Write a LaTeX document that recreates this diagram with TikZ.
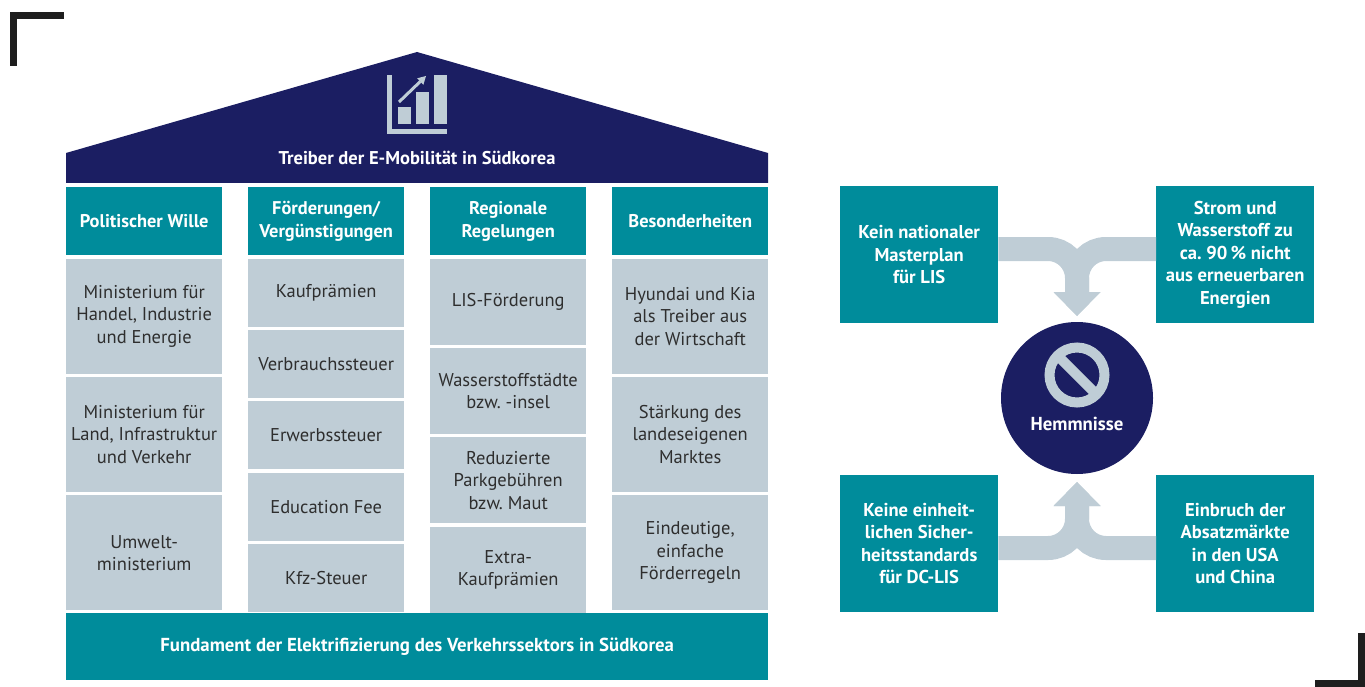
\documentclass[tikz,border=0pt]{standalone}
\usepackage{fontspec}
\setmainfont{PT Sans}
\usetikzlibrary{arrows.meta,positioning}
\definecolor{roofblue}{HTML}{1B1E62}
\definecolor{pillar}{HTML}{008C9B}
\definecolor{stone}{HTML}{BFCDD6}
\definecolor{inktext}{HTML}{2E2E2E}
\definecolor{marker}{HTML}{1E1E1E}
\frenchspacing

\begin{document}
\begin{tikzpicture}[x=1pt, y=-1pt,
                    pillarhead/.style={rectangle, fill=pillar, text=white, align=center,
                                       font=\bfseries\fontsize{18.4}{22.5}\selectfont,
                                       minimum width=156pt, minimum height=68pt,
                                       inner sep=0pt, anchor=north west},
                    brick/.style={rectangle, fill=stone, text=inktext, align=center,
                                  font=\fontsize{18.5}{22.5}\selectfont,
                                  minimum width=156pt, inner sep=0pt},
                    issue/.style={rectangle, fill=pillar, text=white, align=center,
                                  font=\bfseries\fontsize{18.6}{22.5}\selectfont,
                                  minimum width=158pt, minimum height=137pt,
                                  inner sep=0pt, anchor=north west},
                    flow/.style={draw=stone, line width=24pt, rounded corners=29pt,
                                 -{Triangle[length=24pt, width=47pt, line width=0pt]}},
                    %% every node/.style = {draw}
                    ]
\useasboundingbox (0,0) rectangle (1365,687);

% corner marks
\fill[marker] (10,12) rectangle (64,19);
\fill[marker] (10,12) rectangle (17,66);
\fill[marker] (1315,680) rectangle (1365,687);
\fill[marker] (1358,633) rectangle (1365,687);

% roof
\fill[roofblue] (66,183) -- (66,153) -- (417,52) -- (768,153) -- (768,183) -- cycle;
\node[text=white, font=\bfseries\fontsize{18.5}{22}\selectfont] (roof) at (417,158)
     {Treiber der E-Mobilität in Südkorea};
\fill[stone] (387,75) rectangle (392,134);
\fill[stone] (387,129) rectangle (447,134);
\fill[stone] (398,107) rectangle (411,124);
\fill[stone] (416,92) rectangle (429,124);
\fill[stone] (434,75) rectangle (447,124);
\draw[stone, line width=3pt, -{Triangle[length=8pt, width=9pt, line width=0pt]}]
     (399,102) -- (426,76);

% pillars
\node[pillarhead] (politik) at (66,187) {Politischer Wille};
\node[brick, minimum height=115pt, below=3pt of politik] (mhie) {Ministerium für\\Handel, Industrie\\und Energie};
\node[brick, minimum height=115pt, below=3pt of mhie] (mliv) {Ministerium für\\Land, Infrastruktur\\und Verkehr};
\node[brick, minimum height=115pt, below=3pt of mliv] (umwelt) {Umwelt-\\ministerium};

\node[pillarhead] (foerder) at (248,187) {Förderungen/\\Vergünstigungen};
\node[brick, minimum height=68pt, below=3pt of foerder] (kauf) {Kaufprämien};
\node[brick, minimum height=68pt, below=3pt of kauf] (verbrauch) {Verbrauchssteuer};
\node[brick, minimum height=68pt, below=3pt of verbrauch] (erwerb) {Erwerbssteuer};
\node[brick, minimum height=68pt, below=3pt of erwerb] (edu) {Education Fee};
\node[brick, minimum height=68pt, below=3pt of edu] (kfz) {Kfz-Steuer};

\node[pillarhead] (regional) at (430,187) {Regionale\\Regelungen};
\node[brick, minimum height=86pt, below=3pt of regional] (lis) {LIS-Förderung};
\node[brick, minimum height=86pt, below=3pt of lis] (wasser) {Wasserstoffstädte\\bzw. -insel};
\node[brick, minimum height=86pt, below=3pt of wasser] (park) {Reduzierte\\Parkgebühren\\bzw. Maut};
\node[brick, minimum height=86pt, below=3pt of park] (extra) {Extra-\\Kaufprämien};

\node[pillarhead] (besonder) at (612,187) {Besonderheiten};
\node[brick, minimum height=115pt, below=3pt of besonder] (hyundai) {Hyundai und Kia\\als Treiber aus\\der Wirtschaft};
\node[brick, minimum height=115pt, below=3pt of hyundai] (markt) {Stärkung des\\landeseigenen\\Marktes};
\node[brick, minimum height=115pt, below=3pt of markt] (regeln) {Eindeutige,\\einfache\\Förderregeln};

% foundation
\node[rectangle, fill=pillar, text=white, font=\bfseries\fontsize{18.8}{22}\selectfont,
      minimum width=702pt, minimum height=67pt, inner sep=0pt, anchor=north west]
     (fundament) at (66,613) {Fundament der Elektrifizierung des Verkehrssektors in Südkorea};

% obstacles
\node[circle, fill=roofblue, minimum size=152pt, inner sep=0pt] (hemm) at (1077,398) {};
\draw[stone, line width=10pt] (1077,375) circle (27.5);
\draw[stone, line width=10pt] (1057.5,355.5) -- (1096.5,394.5);
\node[text=white, font=\bfseries\fontsize{18.8}{22}\selectfont] at (1077,424) {Hemmnisse};

\node[issue] (plan) at (840,186) {Kein nationaler\\Masterplan\\für LIS};
\node[issue] (strom) at (1156,186) {Strom und\\Wasserstoff zu\\ca. 90\,\% nicht\\aus erneuerbaren\\Energien};
\node[issue] (sicher) at (840,475) {Keine einheit-\\lichen Sicher-\\heitsstandards\\für DC-LIS};
\node[issue] (absatz) at (1156,475) {Einbruch der\\Absatzmärkte\\in den USA\\und China};

\coordinate (topjoin) at (1077,249);
\coordinate (toptip) at (1077,316);
\coordinate (botjoin) at (1077,548);
\coordinate (bottip) at (1077,482);
\draw[flow] (plan.east |- topjoin) -- (topjoin) -- (toptip);
\draw[flow] (strom.west |- topjoin) -- (topjoin) -- (toptip);
\draw[flow] (sicher.east |- botjoin) -- (botjoin) -- (bottip);
\draw[flow] (absatz.west |- botjoin) -- (botjoin) -- (bottip);
\end{tikzpicture}
\end{document}
